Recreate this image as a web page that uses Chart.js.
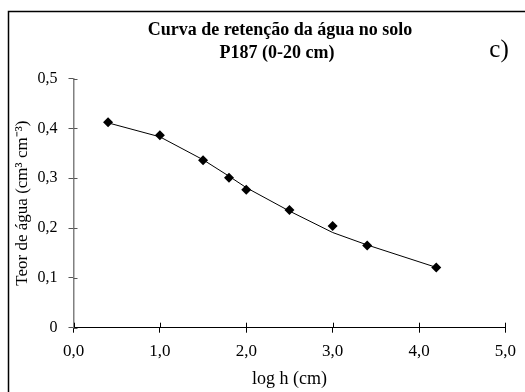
<!DOCTYPE html>
<html>
<head>
<meta charset="utf-8">
<script src="https://cdn.jsdelivr.net/npm/chart.js@4/dist/chart.umd.min.js"></script>
<style>
  body { margin: 0; background: #fff; }
  canvas { display: block; }
</style>
</head>
<body>
<canvas id="grafico" width="525" height="392"></canvas>
<script>
// dados
const logH = [0.4, 1.0, 1.5, 1.8, 2.0, 2.5, 3.0, 3.4, 4.2];
const teorAgua = [0.412, 0.386, 0.336, 0.301, 0.277, 0.236, 0.204, 0.165, 0.121];
const teorAjustado = [0.411, 0.383, 0.337, 0.304, 0.281, 0.234, 0.191, 0.166, 0.121];
const titulo = ['Curva de retenção da água no solo', 'P187 (0-20 cm)'];
const letra = 'c)';

const fonte = '"Liberation Serif", "Times New Roman", serif';

function pontos(xs, ys) {
   let arr = [];
   for (let i = 0; i < xs.length; i++) {
      arr.push({ x: xs[i], y: ys[i] });
   }
   return arr;
}

function virgula(v, casas) {
   if (v === 0 && casas === 0) return '0';
   return v.toFixed(casas).replace('.', ',');
}

// moldura, titulo, letra e metade interna dos tracos
const extras = {
   id: 'extras',
   afterDraw(chart) {
      const ctx = chart.ctx;
      const area = chart.chartArea;
      ctx.save();
      ctx.strokeStyle = '#000';
      ctx.lineWidth = 1.5;
      ctx.strokeRect(8.5, 11.5, 700, 700);

      ctx.fillStyle = '#000';
      ctx.textAlign = 'center';
      ctx.textBaseline = 'middle';
      ctx.font = 'bold 18px ' + fonte;
      ctx.fillText(titulo[0], 280, 30);
      ctx.fillText(titulo[1], 277, 53);

      ctx.font = '25px ' + fonte;
      ctx.fillText(letra, 499, 50);

      ctx.lineWidth = 1;
      ctx.strokeStyle = '#000';
      const sx = chart.scales.x;
      for (const t of sx.ticks) {
         const px = Math.round(sx.getPixelForValue(t.value)) + 0.5;
         ctx.beginPath();
         ctx.moveTo(px, area.bottom);
         ctx.lineTo(px, area.bottom - 5);
         ctx.stroke();
      }
      const sy = chart.scales.y;
      ctx.strokeStyle = '#555';
      for (const t of sy.ticks) {
         const py = Math.round(sy.getPixelForValue(t.value)) + 0.5;
         ctx.beginPath();
         ctx.moveTo(area.left, py);
         ctx.lineTo(area.left + 4, py);
         ctx.stroke();
      }
      ctx.restore();
   }
};

const ctx = document.getElementById('grafico').getContext('2d');
const grafico = new Chart(ctx, {
   type: 'scatter',
   data: {
      datasets: [
         {
            label: 'ajuste',
            data: pontos(logH, teorAjustado),
            showLine: true,
            borderColor: '#000',
            borderWidth: 1,
            pointRadius: 0,
            tension: 0,
            order: 2
         },
         {
            label: 'observado',
            data: pontos(logH, teorAgua),
            showLine: false,
            pointStyle: 'rectRot',
            pointRadius: 5,
            backgroundColor: '#000',
            borderColor: '#000',
            borderWidth: 0,
            order: 1
         }
      ]
   },
   options: {
      responsive: false,
      animation: false,
      layout: { padding: { top: 78.5, right: 9, left: 0, bottom: 0 } },
      plugins: {
         legend: { display: false },
         tooltip: { enabled: false },
         title: { display: false }
      },
      scales: {
         x: {
            type: 'linear',
            min: 0,
            max: 5,
            afterFit: function (scale) { scale.height = 64.3; },
            ticks: {
               stepSize: 1,
               color: '#000',
               padding: 9,
               font: { family: fonte, size: 17 },
               callback: function (v) { return virgula(v, 1); }
            },
            grid: { drawOnChartArea: false, drawTicks: true, tickLength: 5, color: '#000' },
            border: { color: '#000', width: 1 },
            title: {
               display: true,
               text: 'log h (cm)',
               color: '#000',
               font: { family: fonte, size: 18 },
               padding: { top: 4, bottom: 2 }
            }
         },
         y: {
            type: 'linear',
            min: 0,
            max: 0.5,
            afterFit: function (scale) { scale.width = 73.5; },
            ticks: {
               stepSize: 0.1,
               color: '#000',
               padding: 11,
               font: { family: fonte, size: 16 },
               callback: function (v) { return v === 0 ? '0' : virgula(v, 1); }
            },
            grid: { drawOnChartArea: false, drawTicks: true, tickLength: 5, color: '#555' },
            border: { color: '#808080', width: 1.5 },
            title: {
               display: true,
               text: 'Teor de água (cm³ cm⁻³)',
               color: '#000',
               font: { family: fonte, size: 17 },
               padding: { top: 12, bottom: 0 }
            }
         }
      }
   },
   plugins: [extras]
});
</script>
</body>
</html>
